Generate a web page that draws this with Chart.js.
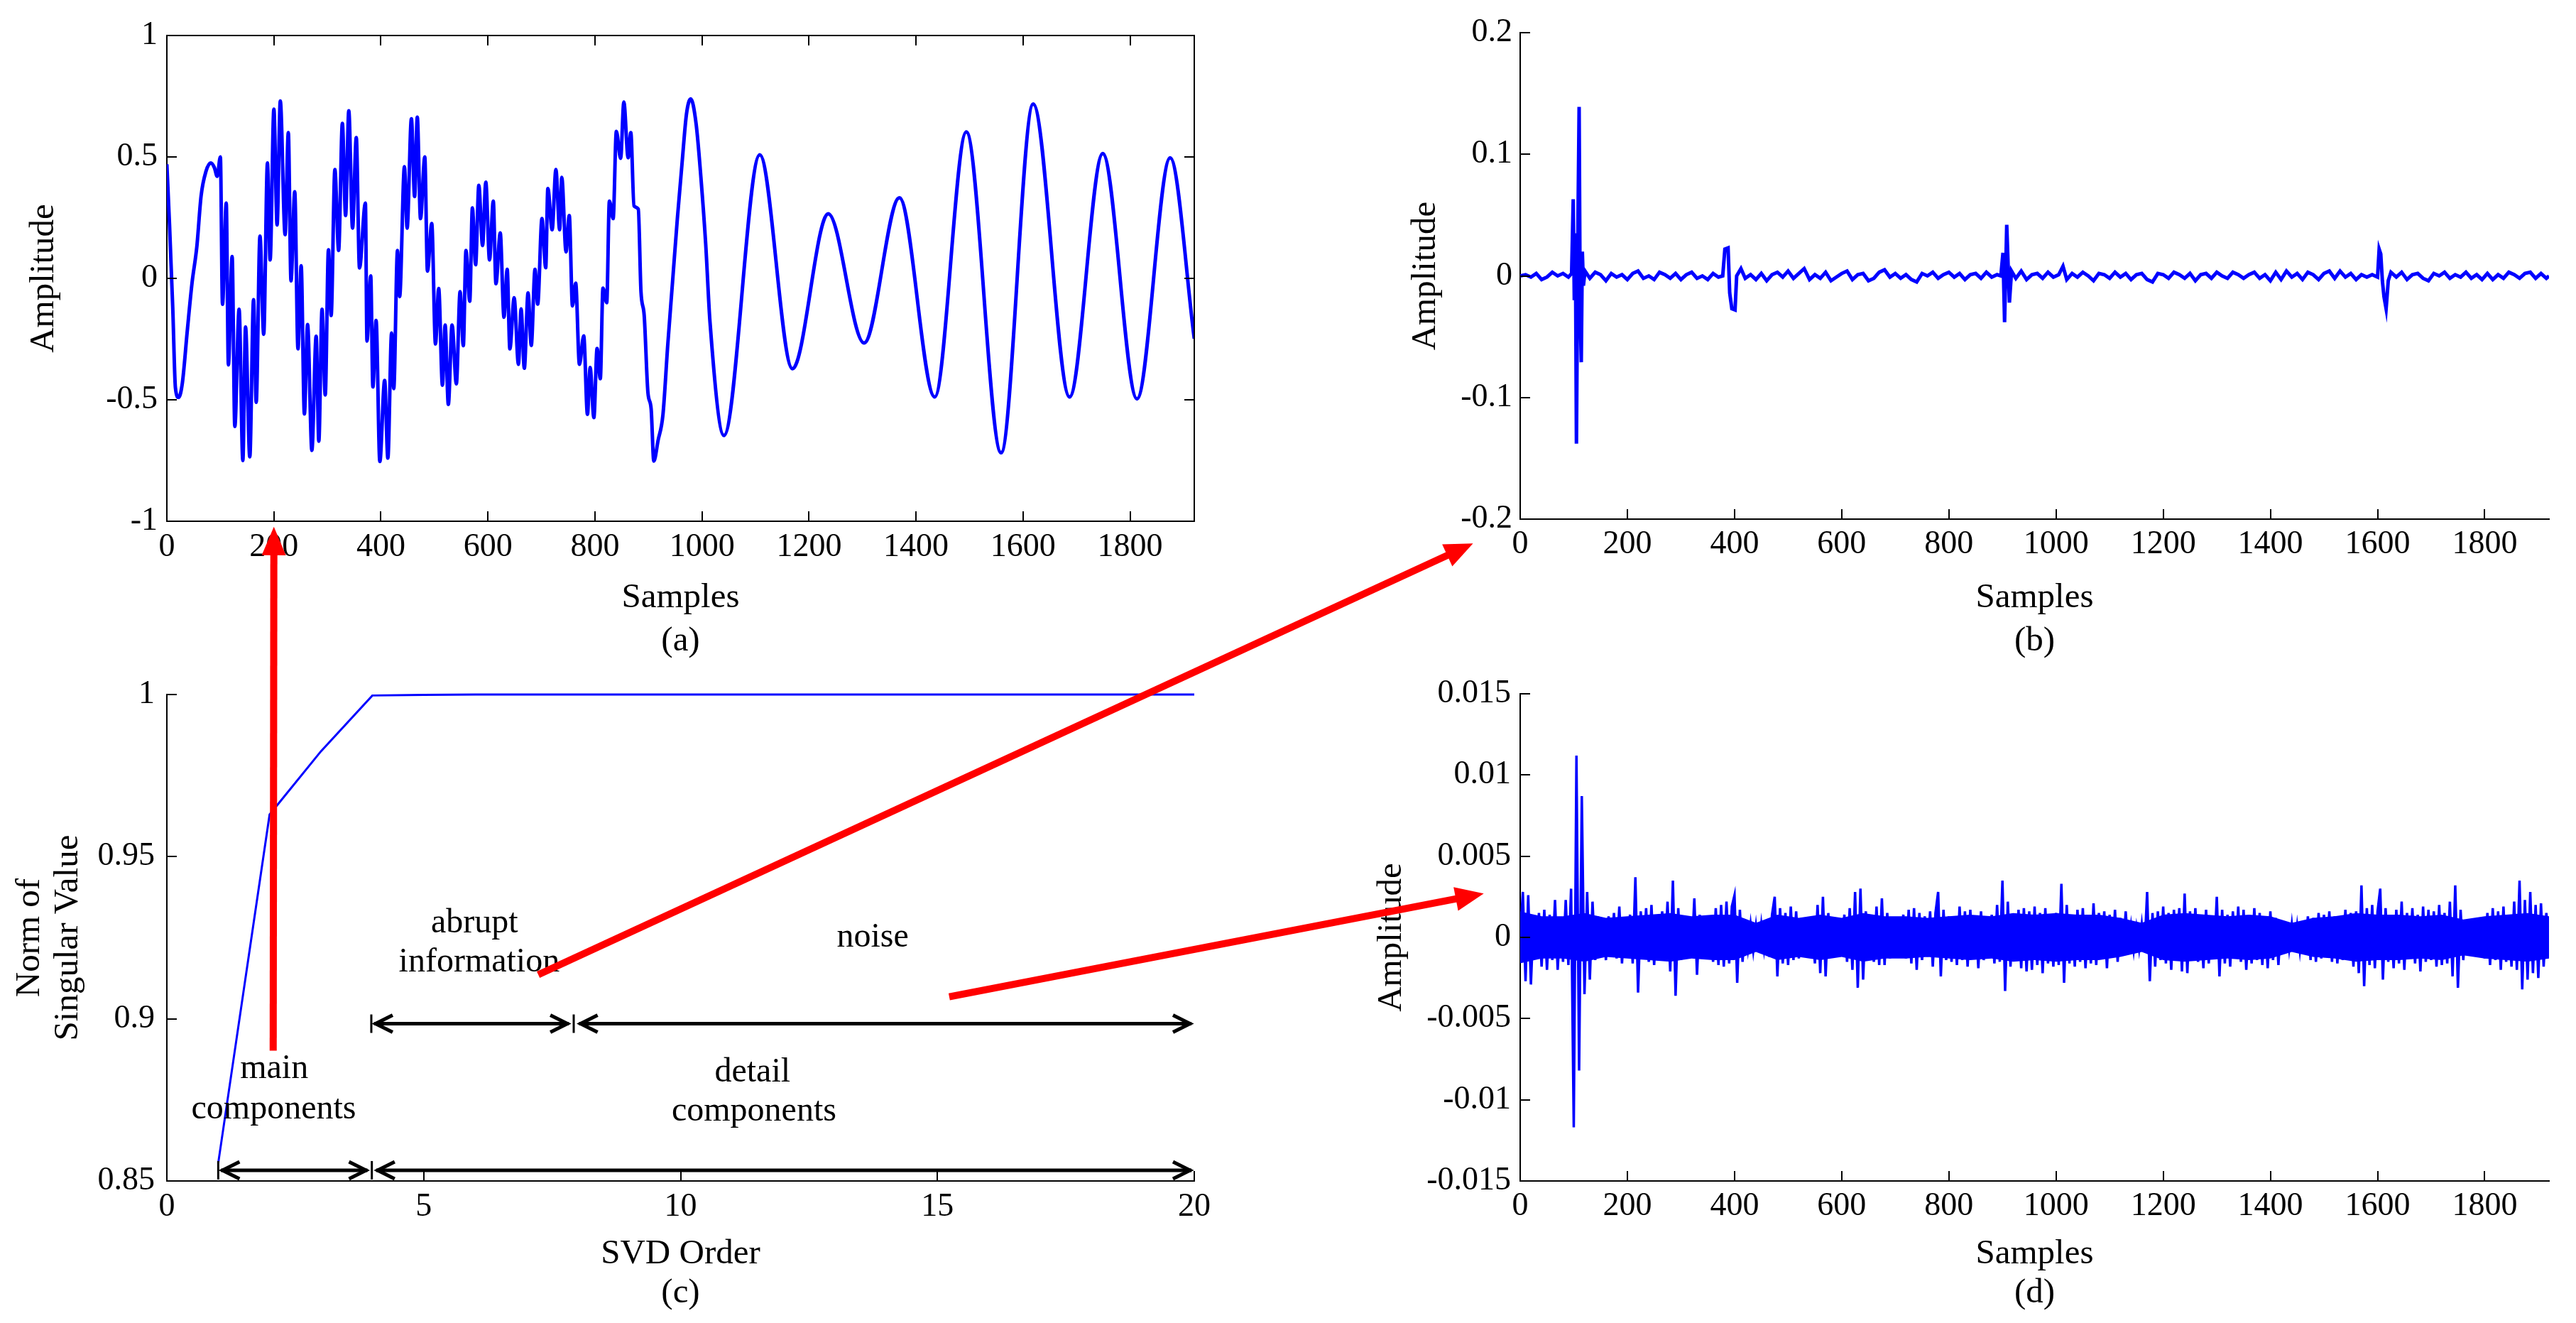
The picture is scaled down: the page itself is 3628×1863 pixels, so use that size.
<!DOCTYPE html>
<html><head><meta charset="utf-8"><title>SVD decomposition of the signal</title>
<script src="https://cdn.jsdelivr.net/npm/chart.js@4.4.1/dist/chart.umd.min.js"></script>
<style>
html,body{margin:0;padding:0;background:#ffffff;}
body{width:3628px;height:1863px;position:relative;overflow:hidden;}
canvas.panel{position:absolute;}
#overlay{position:absolute;left:0;top:0;pointer-events:none;}
</style></head>
<body>
<canvas class="panel" id="panelA" width="1800" height="960" style="left:0px;top:0px"></canvas>
<canvas class="panel" id="panelB" width="1778" height="960" style="left:1850px;top:0px"></canvas>
<canvas class="panel" id="panelC" width="1800" height="933" style="left:0px;top:930px"></canvas>
<canvas class="panel" id="panelD" width="1778" height="933" style="left:1850px;top:930px"></canvas>
<canvas id="overlay" width="3628" height="1863"></canvas>
<script>
// ================= DATA =================
// (a) original signal: [sample, amplitude] (extremes and turning points)
const aSignal = [
[0,0.47],[5,0.22],[11,-0.12],[16,-0.45],[22,-0.49],[29,-0.43],[38,-0.22],[47,-0.02],[56,0.13],[64,0.34],[73,0.44],[82,0.475],[89,0.455],[94,0.42],[100,0.50],
[104,-0.107],[111,0.31],[115,-0.356],[122,0.09],[127,-0.61],[135,-0.127],[142,-0.75],[147,-0.2],[155,-0.735],[162,-0.088],[167,-0.51],[174,0.174],[181,-0.23],[188,0.475],[193,0.076],[200,0.697],[206,0.22],[212,0.73],[221,0.18],[227,0.6],[232,-0.01],[239,0.357],[245,-0.29],[251,0.052],[257,-0.558],[263,-0.19],[271,-0.708],[279,-0.238],[284,-0.67],[290,-0.127],[296,-0.48],[302,0.118],[307,-0.153],[314,0.448],[321,0.115],[328,0.638],[334,0.259],[340,0.69],[347,0.207],[354,0.58],[360,0.043],[371,0.31],[374,-0.258],[381,0.01],[385,-0.447],[391,-0.173],[398,-0.754],[407,-0.42],[413,-0.74],[420,-0.225],[424,-0.454],[431,0.115],[435,-0.075],[444,0.46],[449,0.207],[457,0.657],[463,0.337],[468,0.664],[474,0.246],[482,0.5],[487,0.03],[495,0.226],[502,-0.27],[508,-0.042],[515,-0.44],[520,-0.192],[526,-0.519],[533,-0.192],[541,-0.434],[548,-0.055],[554,-0.277],[559,0.115],[566,-0.094],[571,0.29],[577,0.056],[583,0.383],[590,0.135],[596,0.396],[603,0.076],[610,0.318],[615,-0.022],[623,0.187],[630,-0.16],[636,0.037],[641,-0.29],[649,-0.08],
[657,-0.354],[662,-0.126],[668,-0.37],[675,-0.06],[681,-0.276],[688,0.037],[693,-0.106],[701,0.246],[708,0.044],[712,0.37],[720,0.2],[727,0.448],[734,0.2],[738,0.416],[746,0.109],[752,0.259],[758,-0.113],[764,-0.02],[771,-0.354],[779,-0.237],[786,-0.56],[791,-0.367],[798,-0.573],[804,-0.289],[810,-0.413],[815,-0.04],[822,-0.1],[827,0.318],[834,0.246],[840,0.605],[848,0.494],[854,0.726],[862,0.497],[867,0.6],[873,0.298],[881,0.285],[886,-0.054],[892,-0.152],[899,-0.47],[905,-0.537],[910,-0.752],[918,-0.667],[927,-0.563],[936,-0.276],[945,-0.015],[954,0.246],[963,0.48],[971,0.676],[979,0.739],[989,0.637],[998,0.416],[1007,0.14],[1015,-0.18],
[1041,-0.647],[1108,0.509],[1169,-0.372],[1236,0.266],[1303,-0.266],[1369,0.332],[1435,-0.488],[1494,0.603],[1559,-0.718],[1619,0.718],[1687,-0.488],[1749,0.514],[1813,-0.496],[1875,0.496],[1920,-0.248]
];

// (b) abrupt information: [sample, amplitude]
const bSignal = [
[0,0],[10,0.001],[20,-0.001],[30,0.002],[40,-0.003],[50,-0.001],[60,0.003],[70,0],[80,0.002],[90,-0.001],
[96,0.002],[99,0.063],[101,-0.02],[103,0.035],[105,-0.138],[108,0.05],[110,0.139],[112,-0.03],[114,-0.071],[116,0.02],[118,-0.008],[121,0.004],
[130,-0.002],[140,0.003],[150,0.001],[160,-0.004],[170,0.002],[180,-0.001],[190,0.001],[200,-0.003],[210,0.002],[220,0.004],[230,-0.002],[240,0],[250,-0.003],[260,0.003],[270,0.001],[280,-0.002],[290,0.002],[300,-0.003],[310,0.001],[320,0.003],[330,-0.002],[340,0],[350,-0.003],[360,0.002],[370,-0.001],[378,0],
[382,0.022],[388,0.023],[391,-0.014],[395,-0.027],[401,-0.028],[404,0],
[412,0.006],[420,-0.002],[430,0.001],[440,-0.003],[450,0.002],[460,-0.004],[470,0.001],[480,0.003],[490,-0.001],[500,0.004],[510,-0.002],[520,0.002],[530,0.006],[540,-0.003],[550,0.001],[560,-0.002],[570,0.003],[580,-0.004],[590,-0.001],[600,0.002],[610,0.004],[620,-0.003],[630,0.001],[640,0.002],[650,-0.004],[660,-0.002],[670,0.003],[680,0.005],[690,-0.001],[700,0.002],[710,-0.002],[720,0.001],[730,-0.003],[740,-0.005],[750,0.002],[760,0],[770,0.003],[780,-0.002],[790,0.001],[800,0.003],[810,-0.001],[820,0.002],[830,-0.003],[840,0.001],[850,0.002],[860,-0.002],[870,0.003],[880,-0.001],[890,0.001],
[897,0],[901,0.019],[904,-0.038],[908,0.042],[913,-0.022],[917,0.004],
[925,-0.002],[935,0.004],[945,-0.003],[955,0.001],[965,0.002],[975,-0.002],[985,0.003],[995,-0.001],[1005,0.001],[1013,0.008],[1020,-0.003],[1030,0.002],[1040,-0.001],[1050,0.003],[1060,0],[1070,-0.004],[1080,0.002],[1090,0.001],[1100,-0.002],[1110,0.003],[1120,-0.001],[1130,0.002],[1140,-0.003],[1150,0.001],[1160,0.002],[1170,-0.003],[1180,-0.005],[1190,0.002],[1200,0.001],[1210,-0.002],[1220,0.003],[1230,0.001],[1240,-0.002],[1250,0.002],[1260,-0.004],[1270,0.001],[1280,0.002],[1290,-0.002],[1300,0.003],[1310,0],[1320,-0.002],[1330,0.003],[1340,0.001],[1350,-0.002],[1360,0.001],[1370,0.003],[1380,-0.002],[1390,0.001],[1400,-0.004],[1410,0.003],[1420,-0.003],[1430,0.004],[1440,-0.001],[1450,0.002],[1460,-0.003],[1470,0.003],[1480,0.001],[1490,-0.003],[1500,0.002],[1510,0.004],[1520,-0.002],[1530,0.004],[1540,-0.001],[1550,0.002],[1560,-0.003],[1570,0.001],[1580,-0.001],[1590,0.001],[1600,-0.001],
[1603,0.022],[1606,0.018],[1609,-0.004],[1612,-0.017],[1616,-0.027],[1620,-0.004],
[1625,0.003],[1635,-0.001],[1645,0.003],[1655,-0.003],[1665,0.001],[1675,0.002],[1685,-0.002],[1695,-0.004],[1705,0.002],[1715,0],[1725,0.003],[1735,-0.002],[1745,0.001],[1755,-0.001],[1765,0.003],[1775,-0.002],[1785,0.001],[1795,-0.003],[1805,0.002],[1815,-0.003],[1825,0.001],[1835,-0.002],[1845,0.003],[1855,0.001],[1865,-0.002],[1875,0.002],[1885,0.003],[1895,-0.002],[1905,0.002],[1915,-0.002],[1920,0]
];

// (c) cumulative norm of singular values
const cOrder = [1,2,3,4,5,6,7,8,9,10,11,12,13,14,15,16,17,18,19,20];
const cNorm  = [0.8555,0.9630,0.9825,0.9997,0.9999,1,1,1,1,1,1,1,1,1,1,1,1,1,1,1];

// (d) noise: amplitude in units of 1e-4, one reading every 5 samples from sample 0
const dSampleStep = 5;
const dAmplitudeE4 = [
0,28,-27,26,-29,12,-10,15,-18,17,-20,14,-14,23,-20,12,-15,23,-17,30,
-117,112,-82,87,-35,28,-26,22,-14,13,-12,10,-14,13,-11,15,-13,19,-16,12,
-11,14,-16,37,-34,16,-13,18,-15,20,-17,12,-14,16,-13,22,-21,35,-36,18,
-14,12,-11,13,-12,24,-23,14,-12,11,-10,13,-15,18,-17,20,-18,22,-16,19,
26,-28,17,-15,8,-7,8,-8,7,-9,8,-7,9,-12,14,25,-24,18,-16,15,
-17,19,-14,16,-13,12,-9,8,-8,9,-16,20,-22,25,-24,15,-12,9,-8,8,
-9,14,-15,18,-20,28,-31,30,-26,16,-14,12,-15,19,-17,24,-17,15,-13,11,
-12,10,-11,14,-13,17,-16,18,-20,15,-14,13,-12,16,-18,15,28,-24,17,-14,
13,-15,12,-17,19,-14,16,-18,17,-13,12,-19,16,-14,11,-12,14,-16,20,-15,
35,-33,22,-18,14,-12,17,-19,18,-21,16,-20,19,-17,15,-22,18,-16,14,-18,
15,-17,33,-28,20,-16,14,-18,17,-15,18,-19,13,-16,21,-17,15,-13,16,-19,
14,-12,17,-15,12,-10,16,-8,7,-8,6,-7,8,-9,28,-27,15,-18,16,-14,
19,-16,15,-20,17,-14,18,-21,27,-22,16,-13,18,-15,14,-19,17,-16,13,-12,
25,-24,17,-16,14,-18,16,-13,19,-15,17,-20,12,-16,18,-14,15,-17,13,-19,
16,-14,12,-17,10,-8,9,-7,8,-9,7,-8,9,-10,13,-14,12,-15,15,-13,
14,-12,16,-15,13,-16,12,-14,17,-13,15,-18,16,-22,32,-30,18,-17,20,-19,
16,30,-26,18,-15,14,-19,17,-16,22,-20,15,-13,18,-16,14,-21,19,-15,17,
-14,16,-18,20,-17,15,-16,22,-24,32,-31,17,-14,10,-9,8,-10,9,-8,12,
-13,15,-17,18,-14,16,-20,19,-15,14,-18,22,-20,35,-32,23,-26,28,-22,20,
-25,21,-18,15,-6
];
// (d) half-width of the dense noise core, units of 1e-4, one reading every 40 samples
const dCoreStep = 40;
const dCoreE4 = [16,13,13,15,12,13,14,15,13,14,14,9,14,12,14,12,15,13,13,12,13,14,13,15,14,15,14,14,12,9,14,15,14,13,14,13,9,12,13,15,14,14,13,14,11,13,14,15,13];

// tick values
const sampleTicks = [0,200,400,600,800,1000,1200,1400,1600,1800];
const aYTicks = [-1,-0.5,0,0.5,1];
const bYTicks = [-0.2,-0.1,0,0.1,0.2];
const cXTicks = [0,5,10,15,20];
const cYTicks = [0.85,0.9,0.95,1];
const dYTicks = [-0.015,-0.01,-0.005,0,0.005,0.01,0.015];

// annotations of panel (c) (data coordinates)
const cTexts = [
  {text:'abrupt', x:5.99, y:0.9267},
  {text:'information', x:6.08, y:0.9145},
  {text:'noise', x:13.74, y:0.9223},
  {text:'main', x:2.09, y:0.8817},
  {text:'components', x:2.08, y:0.8692},
  {text:'detail', x:11.40, y:0.8806},
  {text:'components', x:11.43, y:0.8686}
];
const cRanges = [
  {y:0.8985, from:3.98, to:7.88},
  {y:0.8985, from:7.97, to:20},
  {y:0.8533, from:1.0, to:3.96},
  {y:0.8533, from:4.02, to:20}
];
const cRangeBars = [{x:3.98,y:0.8985},{x:7.92,y:0.8985},{x:1.0,y:0.8533},{x:3.99,y:0.8533}];

// red links between panels (chart key + data coordinates)
const redLinks = [
  {fromChart:'c', from:[2.07, 0.8902], toChart:'a', to:[200, -1.023]},
  {fromChart:'c', from:[7.23, 0.9136], toChart:'b', to:[-88, -0.22]},
  {fromChart:'c', from:[15.23, 0.9068], toChart:'d', to:[-68, 0.0027]}
];

// ================= RENDERING =================
const FONT = "'Liberation Serif','Times New Roman',Times,serif";
Chart.defaults.font.family = FONT;
Chart.defaults.font.size = 46;
Chart.defaults.color = '#000000';
const BLUE = '#0000ff', RED = '#ff0000', BLACK = '#000000';

const inwardTicks = {
  id: 'inwardTicks',
  afterDatasetsDraw(chart, args, o) {
    const {ctx, chartArea: ca} = chart;
    const x = chart.scales.x, y = chart.scales.y;
    const L = 14;
    ctx.save();
    ctx.strokeStyle = BLACK; ctx.lineWidth = 2; ctx.beginPath();
    for (const t of x.ticks) {
      const p = Math.round(x.getPixelForValue(t.value));
      ctx.moveTo(p, ca.bottom); ctx.lineTo(p, ca.bottom - L);
      if (o.box) { ctx.moveTo(p, ca.top); ctx.lineTo(p, ca.top + L); }
    }
    for (const t of y.ticks) {
      const p = Math.round(y.getPixelForValue(t.value));
      ctx.moveTo(ca.left, p); ctx.lineTo(ca.left + L, p);
      if (o.box) { ctx.moveTo(ca.right, p); ctx.lineTo(ca.right - L, p); }
    }
    if (o.box) {
      ctx.moveTo(ca.left, ca.top); ctx.lineTo(ca.right, ca.top); ctx.lineTo(ca.right, ca.bottom);
    }
    ctx.stroke();
    ctx.restore();
  }
};

const panelNotes = {
  id: 'panelNotes',
  afterDatasetsDraw(chart, args, o) {
    if (!o || !o.ranges) return;
    const {ctx} = chart;
    const x = chart.scales.x, y = chart.scales.y;
    ctx.save();
    ctx.strokeStyle = BLACK; ctx.fillStyle = BLACK;
    const hl = 30, hh = 12;
    for (const r of o.ranges) {
      const x0 = x.getPixelForValue(r.from), x1 = x.getPixelForValue(r.to), py = y.getPixelForValue(r.y);
      ctx.lineWidth = 5; ctx.lineJoin = 'miter';
      ctx.beginPath(); ctx.moveTo(x0 + 4, py); ctx.lineTo(x1 - 4, py); ctx.stroke();
      ctx.beginPath();
      ctx.moveTo(x0 + hl, py - hh); ctx.lineTo(x0 + 6, py); ctx.lineTo(x0 + hl, py + hh);
      ctx.moveTo(x1 - hl, py - hh); ctx.lineTo(x1 - 6, py); ctx.lineTo(x1 - hl, py + hh);
      ctx.stroke();
    }
    ctx.lineWidth = 3;
    for (const b of o.bars) {
      const px = x.getPixelForValue(b.x), py = y.getPixelForValue(b.y);
      ctx.beginPath(); ctx.moveTo(px, py - 13); ctx.lineTo(px, py + 13); ctx.stroke();
    }
    ctx.font = '48px ' + FONT; ctx.textAlign = 'center'; ctx.textBaseline = 'alphabetic';
    for (const t of o.texts) ctx.fillText(t.text, x.getPixelForValue(t.x), y.getPixelForValue(t.y));
    ctx.restore();
  }
};

function makeChart(id, c) {
  return new Chart(document.getElementById(id), {
    type: 'line',
    data: { datasets: c.datasets },
    options: {
      responsive: false, animation: false, devicePixelRatio: 1,
      layout: { padding: c.padding },
      elements: { point: { radius: 0 } },
      plugins: {
        legend: { display: false }, tooltip: { enabled: false },
        inwardTicks: { box: !!c.box },
        panelNotes: c.notes || {}
      },
      scales: {
        x: {
          type: 'linear', min: c.xMin, max: c.xMax,
          afterBuildTicks: s => { s.ticks = c.xTicks.map(v => ({ value: v })); },
          afterFit: s => { s.height = c.xHeight; },
          grid: { display: false, drawTicks: false },
          border: { display: true, color: BLACK, width: 2 },
          ticks: { autoSkip: false, maxRotation: 0, minRotation: 0, padding: c.xPad, color: BLACK, font: { size: 46 }, callback: v => String(v) },
          title: { display: true, text: c.xTitle, color: BLACK, font: { size: 49, lineHeight: c.xTitleLH }, padding: { top: 0, bottom: c.xTitlePad } }
        },
        y: {
          type: 'linear', min: c.yMin, max: c.yMax,
          afterBuildTicks: s => { s.ticks = c.yTicks.map(v => ({ value: v })); },
          afterFit: s => { s.width = c.yWidth; },
          grid: { display: false, drawTicks: false },
          border: { display: true, color: BLACK, width: 2 },
          ticks: { autoSkip: false, padding: c.yPad, color: BLACK, font: { size: 46 }, callback: v => String(v) },
          title: { display: true, text: c.yTitle, color: BLACK, font: { size: 49, lineHeight: c.yTitleLH || 1.2 }, padding: { top: c.yTitlePad, bottom: 0 } }
        }
      }
    },
    plugins: [inwardTicks, panelNotes]
  });
}

const charts = {};
charts.a = makeChart('panelA', {
  datasets: [{ data: aSignal.map(p => ({ x: p[0], y: p[1] })), borderColor: BLUE, borderWidth: 5, cubicInterpolationMode: 'monotone', fill: false }],
  padding: { top: 50, right: 118, left: 0, bottom: 0 }, box: true,
  xMin: 0, xMax: 1920, xTicks: sampleTicks, xHeight: 226, xPad: 9,
  xTitle: ['Samples', '(a)'], xTitleLH: 1.245, xTitlePad: 26.5,
  yMin: -1, yMax: 1, yTicks: aYTicks, yWidth: 235, yPad: 13,
  yTitle: 'Amplitude', yTitlePad: 33
});
charts.b = makeChart('panelB', {
  datasets: [{ data: bSignal.map(p => ({ x: p[0], y: p[1] })), borderColor: BLUE, borderWidth: 5, tension: 0, fill: false }],
  padding: { top: 46, right: 38, left: 0, bottom: 0 },
  xMin: 0, xMax: 1920, xTicks: sampleTicks, xHeight: 229, xPad: 8.5,
  xTitle: ['Samples', '(b)'], xTitleLH: 1.245, xTitlePad: 26.5,
  yMin: -0.2, yMax: 0.2, yTicks: bYTicks, yWidth: 291, yPad: 11,
  yTitle: 'Amplitude', yTitlePad: 129
});
charts.c = makeChart('panelC', {
  datasets: [{ data: cOrder.map((o, i) => ({ x: o, y: cNorm[i] })), borderColor: BLUE, borderWidth: 3, tension: 0, fill: false, clip: false }],
  padding: { top: 48, right: 118, left: 0, bottom: 0 },
  notes: { ranges: cRanges, bars: cRangeBars, texts: cTexts },
  xMin: 0, xMax: 20, xTicks: cXTicks, xHeight: 200, xPad: 9,
  xTitle: ['SVD Order', '(c)'], xTitleLH: 1.122, xTitlePad: 14.5,
  yMin: 0.85, yMax: 1, yTicks: cYTicks, yWidth: 235, yPad: 17,
  yTitle: ['Norm of', 'Singular Value'], yTitleLH: 1.102, yTitlePad: 15
});
charts.d = makeChart('panelD', {
  datasets: [
    { data: dAmplitudeE4.map((v, i) => ({ x: i * dSampleStep, y: v * 1e-4 })), borderColor: BLUE, backgroundColor: BLUE, borderWidth: 3.5, tension: 0, fill: 'origin' },
    { data: dCoreE4.map((v, i) => ({ x: Math.min(i * dCoreStep, 1920), y: v * 1e-4 })), borderColor: BLUE, backgroundColor: BLUE, borderWidth: 0, tension: 0, fill: '+1' },
    { data: dCoreE4.map((v, i) => ({ x: Math.min(i * dCoreStep, 1920), y: -v * 1e-4 })), borderColor: BLUE, backgroundColor: BLUE, borderWidth: 0, tension: 0, fill: false }
  ],
  padding: { top: 47, right: 38, left: 0, bottom: 0 },
  xMin: 0, xMax: 1920, xTicks: sampleTicks, xHeight: 200, xPad: 8,
  xTitle: ['Samples', '(d)'], xTitleLH: 1.122, xTitlePad: 14.5,
  yMin: -0.015, yMax: 0.015, yTicks: dYTicks, yWidth: 291, yPad: 13,
  yTitle: 'Amplitude', yTitlePad: 81
});

function pagePoint(key, pt) {
  const ch = charts[key], el = ch.canvas;
  return [el.offsetLeft + ch.scales.x.getPixelForValue(pt[0]), el.offsetTop + ch.scales.y.getPixelForValue(pt[1])];
}
(function drawRedLinks() {
  const ctx = document.getElementById('overlay').getContext('2d');
  for (const a of redLinks) {
    const [sx, sy] = pagePoint(a.fromChart, a.from);
    const [ex, ey] = pagePoint(a.toChart, a.to);
    const ang = Math.atan2(ey - sy, ex - sx), ca = Math.cos(ang), sa = Math.sin(ang);
    const hl = 40, hw = 17;
    const bx = ex - hl * ca, by = ey - hl * sa;
    ctx.strokeStyle = RED; ctx.lineWidth = 10; ctx.lineCap = 'butt';
    ctx.beginPath(); ctx.moveTo(sx, sy); ctx.lineTo(bx + 2 * ca, by + 2 * sa); ctx.stroke();
    ctx.fillStyle = RED; ctx.beginPath();
    ctx.moveTo(ex, ey);
    ctx.lineTo(bx - hw * sa, by + hw * ca);
    ctx.lineTo(bx + hw * sa, by - hw * ca);
    ctx.closePath(); ctx.fill();
  }
})();
</script>
</body></html>
